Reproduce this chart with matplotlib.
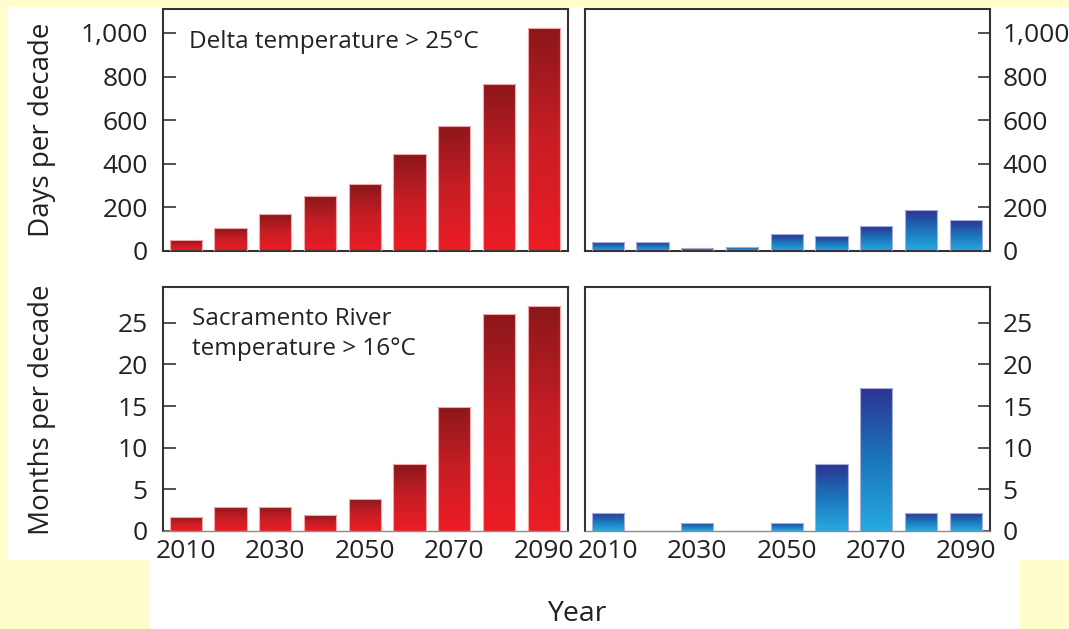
import matplotlib
matplotlib.use("Agg")
import matplotlib.pyplot as plt
import numpy as np
from matplotlib.colors import LinearSegmentedColormap
from matplotlib.patches import Rectangle

plt.rcParams["font.family"] = ["Open Sans", "DejaVu Sans"]

# donnees
annees = [2010, 2020, 2030, 2040, 2050, 2060, 2070, 2080, 2090]
delta_rouge = [50, 104, 168, 251, 307, 443, 572, 765, 1021]
delta_bleu = [40, 40, 12, 20, 77, 67, 113, 187, 142]
sacra_rouge = [1.7, 2.9, 2.9, 1.9, 3.9, 8.0, 14.9, 26.0, 27.0]
sacra_bleu = [2.2, 0, 1.0, 0, 1.0, 8.0, 17.2, 2.2, 2.2]
ticks_annees = [2010, 2030, 2050, 2070, 2090]
ticks_jours = [0, 200, 400, 600, 800, 1000]
labels_jours = ["0", "200", "400", "600", "800", "1,000"]
ticks_mois = [0, 5, 10, 15, 20, 25]

rouge = LinearSegmentedColormap.from_list("rouge", ["#ED1C24", "#C81E25", "#8A171A"])
bleu = LinearSegmentedColormap.from_list("bleu", ["#27AAE1", "#1B75BB", "#2E3192"])

W, H = 1069, 629
fig = plt.figure(figsize=(W / 100, H / 100), dpi=100, facecolor="#FFFDCC")

# fond blanc (forme en L)
fig.patches.append(Rectangle((7 / W, (H - 560) / H), (W - 7) / W, 553 / H,
                             transform=fig.transFigure, facecolor="white",
                             edgecolor="none", zorder=-10))
fig.patches.append(Rectangle((150 / W, 0), 870 / W, (H - 559) / H,
                             transform=fig.transFigure, facecolor="white",
                             edgecolor="none", zorder=-10))


def px_axes(x0, x1, y0, y1):
    return fig.add_axes([x0 / W, (H - y1) / H, (x1 - x0) / W, (y1 - y0) / H])


def barres(ax, vals, cmap, bord, ymax):
    bars = ax.bar(annees, vals, width=7.2, facecolor="none", edgecolor=bord,
                  linewidth=0.8, zorder=3)
    grad = np.linspace(0, 1, 256).reshape(-1, 1)
    for b in bars:
        h = b.get_height()
        if h <= 0:
            continue
        x = b.get_x()
        im = ax.imshow(grad, extent=[x - 0.5, x + b.get_width() + 0.5, 0, h * 1.01],
                       origin="lower", aspect="auto", cmap=cmap, zorder=2)
        im.set_clip_path(b)
    ax.set_xlim(2004.9, 2095.4)
    ax.set_ylim(0, ymax)
    ax.set_aspect("auto")
    ax.set_facecolor("white")
    for s in ax.spines.values():
        s.set_color("#333333")
        s.set_linewidth(1.5)


ax1 = px_axes(163, 568, 9, 251)
ax2 = px_axes(585, 990, 9, 251)
ax3 = px_axes(163, 568, 287, 531)
ax4 = px_axes(585, 990, 287, 531)

barres(ax1, delta_rouge, rouge, "#F2A7AA", 1110)
barres(ax2, delta_bleu, bleu, "#A9ADDB", 1110)
barres(ax3, sacra_rouge, rouge, "#F2A7AA", 29.3)
barres(ax4, sacra_bleu, bleu, "#A9ADDB", 29.3)

for ax in (ax1, ax2):
    ax.set_yticks(ticks_jours)
    ax.set_yticklabels(labels_jours)
for ax in (ax3, ax4):
    ax.set_yticks(ticks_mois)
    ax.spines["bottom"].set_color("#8C8C8C")
    ax.spines["bottom"].set_linewidth(1.0)

for ax in (ax1, ax3):
    ax.tick_params(axis="y", direction="in", length=9, width=1.2,
                   color="#333333", labelsize=19, labelcolor="#222222", pad=11)
for ax in (ax2, ax4):
    ax.yaxis.tick_right()
    ax.tick_params(axis="y", direction="in", length=9, width=1.2,
                   color="#333333", labelsize=19, labelcolor="#222222", pad=9)

for ax in (ax1, ax2):
    ax.set_xticks([])
for ax in (ax3, ax4):
    ax.set_xticks(ticks_annees)
    ax.tick_params(axis="x", length=0, labelsize=19, labelcolor="#222222", pad=6)

ax1.text(0.064, 0.864, "Delta temperature > 25°C", transform=ax1.transAxes,
         fontsize=17.5, color="#222222", va="center", ha="left")
ax3.text(0.072, 0.807, "Sacramento River\ntemperature > 16°C",
         transform=ax3.transAxes, fontsize=17.5, color="#222222",
         va="center", ha="left", linespacing=1.3)

fig.text(42 / W, 1 - 130 / H, "Days per decade", rotation=90, fontsize=20,
         color="#222222", ha="center", va="center")
fig.text(42 / W, 1 - 410 / H, "Months per decade", rotation=90, fontsize=20,
         color="#222222", ha="center", va="center")
fig.text(577 / W, 1 - 614 / H, "Year", fontsize=20.5, color="#222222",
         ha="center", va="center")

fig.savefig("out.png", dpi=100, facecolor=fig.get_facecolor())
